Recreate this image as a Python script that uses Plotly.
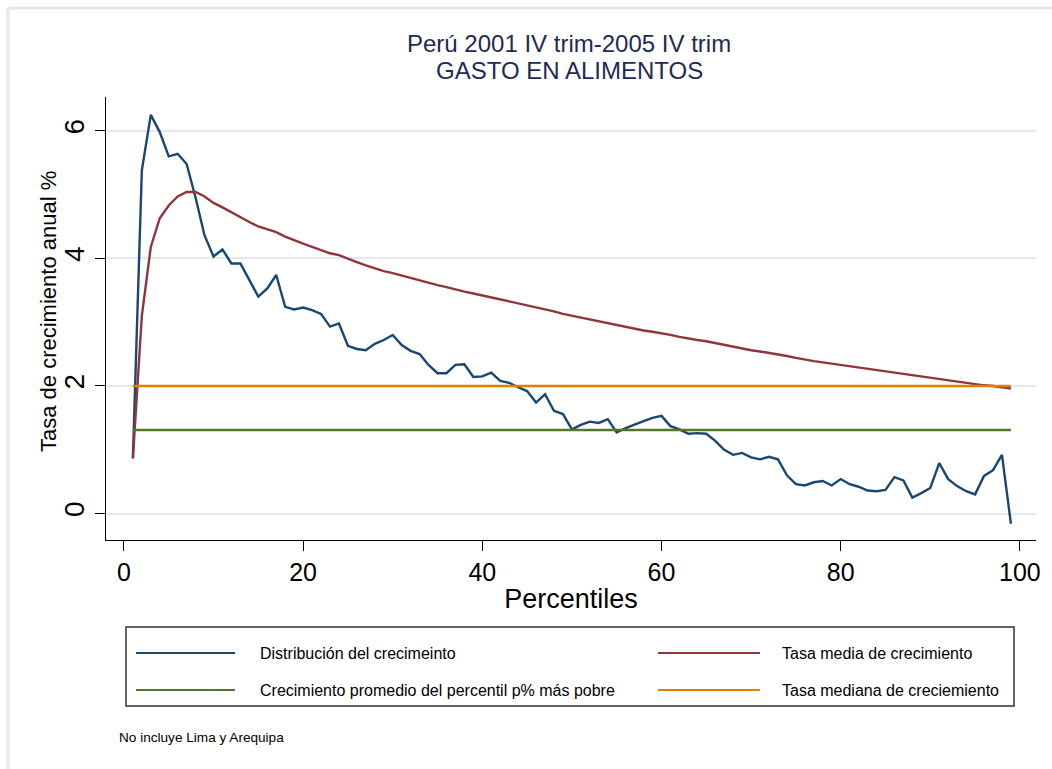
import plotly.graph_objects as go

# ---------------- data ----------------
percentiles = list(range(1, 100))

distribucion = [
    0.87, 5.38, 6.25, 5.98, 5.60, 5.64, 5.48, 4.95, 4.36, 4.03,
    4.14, 3.92, 3.92, 3.67, 3.40, 3.53, 3.74, 3.24, 3.20, 3.23,
    3.19, 3.13, 2.93, 2.98, 2.63, 2.58, 2.56, 2.66, 2.72, 2.80,
    2.64, 2.55, 2.50, 2.33, 2.20, 2.20, 2.33, 2.34, 2.14, 2.15,
    2.21, 2.08, 2.05, 1.98, 1.92, 1.74, 1.87, 1.61, 1.56, 1.32,
    1.39, 1.44, 1.42, 1.48, 1.27, 1.34, 1.40, 1.45, 1.50, 1.53,
    1.37, 1.32, 1.25, 1.26, 1.25, 1.14, 1.00, 0.92, 0.95, 0.88,
    0.85, 0.89, 0.85, 0.60, 0.46, 0.44, 0.49, 0.51, 0.44, 0.54,
    0.46, 0.42, 0.36, 0.35, 0.37, 0.57, 0.52, 0.25, 0.32, 0.40,
    0.79, 0.54, 0.43, 0.35, 0.30, 0.59, 0.68, 0.92, -0.16,
]

tasa_media = [
    0.86, 3.10, 4.18, 4.63, 4.83, 4.97, 5.04, 5.04, 4.97, 4.87,
    4.80, 4.72, 4.65, 4.57, 4.50, 4.45, 4.41, 4.34, 4.28, 4.23,
    4.18, 4.13, 4.08, 4.05, 3.99, 3.94, 3.89, 3.84, 3.80, 3.77,
    3.73, 3.70, 3.66, 3.62, 3.58, 3.55, 3.51, 3.48, 3.45, 3.42,
    3.39, 3.36, 3.33, 3.30, 3.27, 3.23, 3.20, 3.17, 3.13, 3.10,
    3.07, 3.04, 3.01, 2.98, 2.95, 2.92, 2.89, 2.87, 2.85, 2.83,
    2.80, 2.77, 2.74, 2.72, 2.70, 2.67, 2.65, 2.62, 2.59, 2.56,
    2.54, 2.52, 2.49, 2.47, 2.44, 2.41, 2.39, 2.37, 2.35, 2.33,
    2.31, 2.29, 2.26, 2.24, 2.22, 2.20, 2.18, 2.16, 2.14, 2.12,
    2.10, 2.09, 2.07, 2.05, 2.03, 2.01, 2.00, 1.98, 1.96,
]

promedio_pobre = 1.31   # Crecimiento promedio del percentil p% más pobre
tasa_mediana = 2.00     # Tasa mediana de creciemiento

x_ticks = [0, 20, 40, 60, 80, 100]
y_ticks = [0, 2, 4, 6]

names = [
    "Distribución del crecimeinto",
    "Tasa media de crecimiento",
    "Crecimiento promedio del percentil p% más pobre",
    "Tasa mediana de creciemiento",
]
colors = ["#1a476f", "#90353b", "#55752f", "#e37e00"]

title_lines = ["Perú 2001 IV trim-2005 IV trim", "GASTO EN ALIMENTOS"]
x_title = "Percentiles"
y_title = "Tasa de crecimiento anual %"
note = "No incluye Lima y Arequipa"

# ---------------- figure ----------------
W, H = 1052, 769
L, R, T, B = 106, 16, 97, 229
pw, ph = W - L - R, H - T - B

def px(xp):
    return (xp - L) / pw

def py(yp):
    return (H - B - yp) / ph

FONT = "Liberation Sans, Arial, Helvetica, sans-serif"

fig = go.Figure()
fig.add_trace(go.Scatter(x=percentiles, y=distribucion, mode="lines",
                         line=dict(color=colors[0], width=2.4), name=names[0]))
fig.add_trace(go.Scatter(x=percentiles, y=tasa_media, mode="lines",
                         line=dict(color=colors[1], width=2.4), name=names[1]))
fig.add_trace(go.Scatter(x=percentiles, y=[promedio_pobre] * len(percentiles), mode="lines",
                         line=dict(color=colors[2], width=2.4), name=names[2]))
fig.add_trace(go.Scatter(x=percentiles, y=[tasa_mediana] * len(percentiles), mode="lines",
                         line=dict(color=colors[3], width=2.4), name=names[3]))

fig.update_layout(
    width=W, height=H, autosize=False,
    margin=dict(l=L, r=R, t=T, b=B),
    paper_bgcolor="white", plot_bgcolor="white",
    showlegend=False,
    font=dict(family=FONT, color="black"),
)

fig.update_xaxes(
    range=[-2.0, 101.8], tickvals=x_ticks, ticktext=[str(v) for v in x_ticks],
    showgrid=False, zeroline=False,
    showline=True, linecolor="black", linewidth=1.2,
    ticks="outside", ticklen=10, tickwidth=1.2, tickcolor="black",
    tickfont=dict(size=25, family=FONT),
    title=dict(text=x_title, font=dict(size=27, family=FONT), standoff=4),
)
fig.update_yaxes(
    range=[-0.415, 6.53], tickvals=y_ticks, ticktext=[str(v) for v in y_ticks],
    showgrid=True, gridcolor="#e3e8f0", gridwidth=2,
    zeroline=False,
    showline=True, linecolor="black", linewidth=1.2,
    ticks="outside", ticklen=10, tickwidth=1.2, tickcolor="black",
    tickangle=-90,
    tickfont=dict(size=28, family=FONT),
)

shapes = []
annotations = []

# outer graph-region border (top and left)
shapes.append(dict(type="line", xref="paper", yref="paper",
                   x0=px(8), x1=px(W + 5), y0=py(8), y1=py(8),
                   line=dict(color="#e3e8f0", width=3)))
shapes.append(dict(type="line", xref="paper", yref="paper",
                   x0=px(8), x1=px(8), y0=py(8), y1=py(H + 5),
                   line=dict(color="#e3e8f0", width=3)))

# y-axis title
annotations.append(dict(xref="paper", yref="paper", x=px(48), y=py(312),
                        xanchor="center", yanchor="middle", showarrow=False,
                        textangle=-90, text=y_title,
                        font=dict(size=22, family=FONT, color="black")))

# title (two lines)
for txt, yc in zip(title_lines, [43, 70]):
    annotations.append(dict(xref="paper", yref="paper", x=px(569), y=py(yc),
                            xanchor="center", yanchor="middle", showarrow=False,
                            text=txt,
                            font=dict(size=24, family=FONT, color="#1e2a55")))

# legend box
shapes.append(dict(type="rect", xref="paper", yref="paper",
                   x0=px(126), x1=px(1014), y0=py(706), y1=py(627),
                   line=dict(color="#333333", width=1.5), fillcolor="white"))
leg_pos = [(136, 235, 258, 653), (658, 760, 780, 653),
           (136, 235, 258, 690), (658, 760, 780, 690)]
for (lx0, lx1, tx, ly), nm, c in zip(leg_pos, names, colors):
    shapes.append(dict(type="line", xref="paper", yref="paper",
                       x0=px(lx0), x1=px(lx1), y0=py(ly), y1=py(ly),
                       line=dict(color=c, width=2.2)))
    annotations.append(dict(xref="paper", yref="paper", x=px(tx), y=py(ly),
                            xanchor="left", yanchor="middle", showarrow=False,
                            text=nm, font=dict(size=16, family=FONT, color="black")))

# note
annotations.append(dict(xref="paper", yref="paper", x=px(117), y=py(737),
                        xanchor="left", yanchor="middle", showarrow=False,
                        text=note, font=dict(size=13.6, family=FONT, color="black")))

fig.update_layout(shapes=shapes, annotations=annotations)

fig.write_html("out.html")
